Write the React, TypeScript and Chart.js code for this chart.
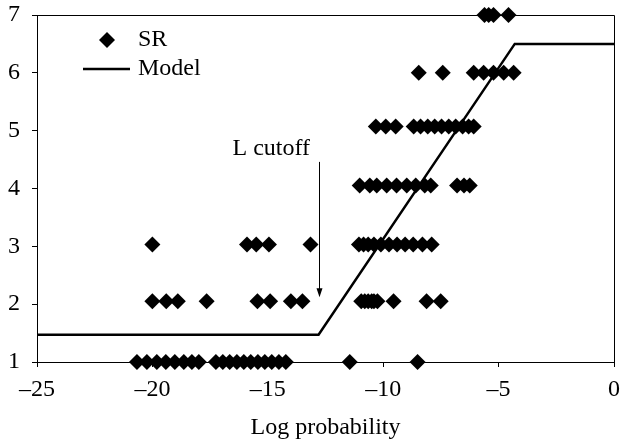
import React, { useEffect, useRef } from 'react';
import { Chart, registerables } from 'chart.js';

Chart.register(...registerables);

// Log-probability values of SR observations, grouped by SR level
const srLevels = [1, 2.05, 3.03, 4.05, 5.07, 6, 7];
const srLevel1 = [
  -20.67, -20.24, -19.81, -19.42, -19.03, -18.64, -18.29, -17.99,
  -17.25, -16.95, -16.65, -16.34, -16.04, -15.74, -15.43, -15.13, -14.83, -14.52, -14.22,
  -11.45, -8.51,
];
const srLevel2 = [
  -20.0, -19.4, -18.9, -17.65, -15.45, -14.9, -14.0, -13.5,
  -10.95, -10.8, -10.65, -10.5, -10.4, -10.25, -9.55, -8.12, -7.51,
];
const srLevel3 = [
  -20.0, -15.9, -15.5, -14.95, -13.15,
  -11.05, -10.85, -10.65, -10.4, -10.1, -9.75, -9.4, -9.05, -8.7, -8.3, -7.9,
];
const srLevel4 = [
  -11.02, -10.58, -10.28, -9.85, -9.42, -8.98, -8.59, -8.2, -7.94, -6.8, -6.5, -6.25,
];
const srLevel5 = [
  -10.32, -9.89, -9.46, -8.68, -8.38, -8.07, -7.77, -7.47, -7.16, -6.86, -6.56, -6.3, -6.08,
];
const srLevel6 = [-8.46, -7.42, -6.08, -5.65, -5.22, -4.78, -4.35];
const srLevel7 = [-5.61, -5.43, -5.22, -4.57];
const srRows = [srLevel1, srLevel2, srLevel3, srLevel4, srLevel5, srLevel6, srLevel7];

// Piecewise-linear model
const modelX = [-25, -12.8, -4.3, 0];
const modelY = [1.47, 1.47, 6.5, 6.5];

// Axis ticks
const xTicks = [-25, -20, -15, -10, -5, 0];
const yTicks = [1, 2, 3, 4, 5, 6, 7];

// Cutoff annotation
const cutoffX = -12.8;
const cutoffArrowTop = 4.46;
const cutoffArrowBottom = 2.12;
const cutoffLabel = 'L cutoff';
const cutoffLabelX = -14.85;
const cutoffLabelY = 4.68;

const FONT = "'Liberation Serif', 'Times New Roman', serif";
const FONT_SIZE = 24;

const srData = srRows.flatMap((row, i) => row.map((x) => ({ x, y: srLevels[i] })));
const modelData = modelX.map((x, i) => ({ x, y: modelY[i] }));

const fmt = (v: number) => (v < 0 ? '\u2013' + Math.abs(v) : String(v));

const frameAndNotes = {
  id: 'frameAndNotes',
  beforeDatasetsDraw(chart: any) {
    const { ctx, chartArea } = chart;
    const { left, right, top, bottom } = chartArea;
    ctx.save();
    ctx.strokeStyle = '#000';
    ctx.lineWidth = 1;
    ctx.beginPath();
    ctx.moveTo(Math.round(left) + 0.5, Math.round(top) + 0.5);
    ctx.lineTo(Math.round(right) + 0.5, Math.round(top) + 0.5);
    ctx.lineTo(Math.round(right) + 0.5, Math.round(bottom) + 0.5);
    ctx.stroke();
    ctx.restore();
  },
  afterDatasetsDraw(chart: any) {
    const { ctx, scales } = chart;
    const xs = scales.x;
    const ys = scales.y;
    ctx.save();
    // cutoff label and arrow
    ctx.fillStyle = '#000';
    ctx.strokeStyle = '#000';
    ctx.font = `${FONT_SIZE}px ${FONT}`;
    ctx.textAlign = 'center';
    ctx.textBaseline = 'middle';
    ctx.fillText(cutoffLabel, xs.getPixelForValue(cutoffLabelX), ys.getPixelForValue(cutoffLabelY));
    const ax = Math.round(xs.getPixelForValue(cutoffX)) + 0.5;
    const ay0 = ys.getPixelForValue(cutoffArrowTop);
    const ay1 = ys.getPixelForValue(cutoffArrowBottom);
    ctx.lineWidth = 1;
    ctx.beginPath();
    ctx.moveTo(ax, ay0);
    ctx.lineTo(ax, ay1 - 6);
    ctx.stroke();
    ctx.beginPath();
    ctx.moveTo(ax - 3, ay1 - 9);
    ctx.lineTo(ax + 3, ay1 - 9);
    ctx.lineTo(ax, ay1);
    ctx.closePath();
    ctx.fill();

    // legend
    const lx = 107;
    const ly1 = 40;
    const ly2 = 69;
    const r = 8;
    ctx.beginPath();
    ctx.moveTo(lx, ly1 - r);
    ctx.lineTo(lx + r, ly1);
    ctx.lineTo(lx, ly1 + r);
    ctx.lineTo(lx - r, ly1);
    ctx.closePath();
    ctx.fill();
    ctx.lineWidth = 2.5;
    ctx.beginPath();
    ctx.moveTo(83, ly2);
    ctx.lineTo(130, ly2);
    ctx.stroke();
    ctx.textAlign = 'left';
    ctx.fillText('SR', 138, ly1);
    ctx.fillText('Model', 138, ly2);
    ctx.restore();
  },
};

export default function App() {
  const canvasRef = useRef<HTMLCanvasElement | null>(null);

  useEffect(() => {
    if (!canvasRef.current) return;
    const chart = new Chart(canvasRef.current, {
      type: 'scatter',
      data: {
        datasets: [
          {
            type: 'line',
            label: 'Model',
            data: modelData,
            borderColor: '#000',
            borderWidth: 2.5,
            pointRadius: 0,
            fill: false,
            tension: 0,
          } as any,
          {
            label: 'SR',
            data: srData,
            pointStyle: 'rectRot',
            pointRadius: 8,
            pointHoverRadius: 8,
            backgroundColor: '#000',
            borderColor: '#000',
            borderWidth: 0,
            clip: false,
          } as any,
        ],
      },
      options: {
        responsive: false,
        animation: false,
        devicePixelRatio: 1,
        layout: { padding: { top: 15, right: 6, left: 0, bottom: 0 } },
        plugins: {
          legend: { display: false },
          tooltip: { enabled: false },
        },
        scales: {
          x: {
            type: 'linear',
            min: -25,
            max: 0,
            afterBuildTicks: (scale: any) => {
              scale.ticks = xTicks.map((value) => ({ value }));
            },
            afterFit: (scale: any) => {
              scale.height = 80;
              scale.paddingLeft = 0;
              scale.paddingRight = 0;
            },
            ticks: {
              color: '#000',
              font: { family: FONT, size: FONT_SIZE },
              padding: 8,
              maxRotation: 0,
              callback: (v: any) => fmt(Number(v)),
            },
            grid: { drawOnChartArea: false, tickLength: 5, color: '#000' },
            border: { color: '#000', width: 1 },
            title: {
              display: true,
              text: 'Log probability',
              color: '#000',
              font: { family: FONT, size: FONT_SIZE },
              padding: { top: 0, bottom: 0 },
            },
          },
          y: {
            type: 'linear',
            min: 1,
            max: 7,
            afterBuildTicks: (scale: any) => {
              scale.ticks = yTicks.map((value) => ({ value }));
            },
            afterFit: (scale: any) => {
              scale.width = 37;
              scale.paddingTop = 0;
              scale.paddingBottom = 0;
            },
            ticks: {
              color: '#000',
              font: { family: FONT, size: FONT_SIZE },
              padding: 12,
              callback: (v: any) => String(v),
            },
            grid: { drawOnChartArea: false, tickLength: 5, color: '#000' },
            border: { color: '#000', width: 1 },
          },
        },
      },
      plugins: [frameAndNotes],
    });
    return () => chart.destroy();
  }, []);

  return (
    <div style={{ position: 'fixed', left: 0, top: 0, width: 622, height: 442, background: '#fff' }}>
      <canvas ref={canvasRef} width={622} height={442} />
    </div>
  );
}
